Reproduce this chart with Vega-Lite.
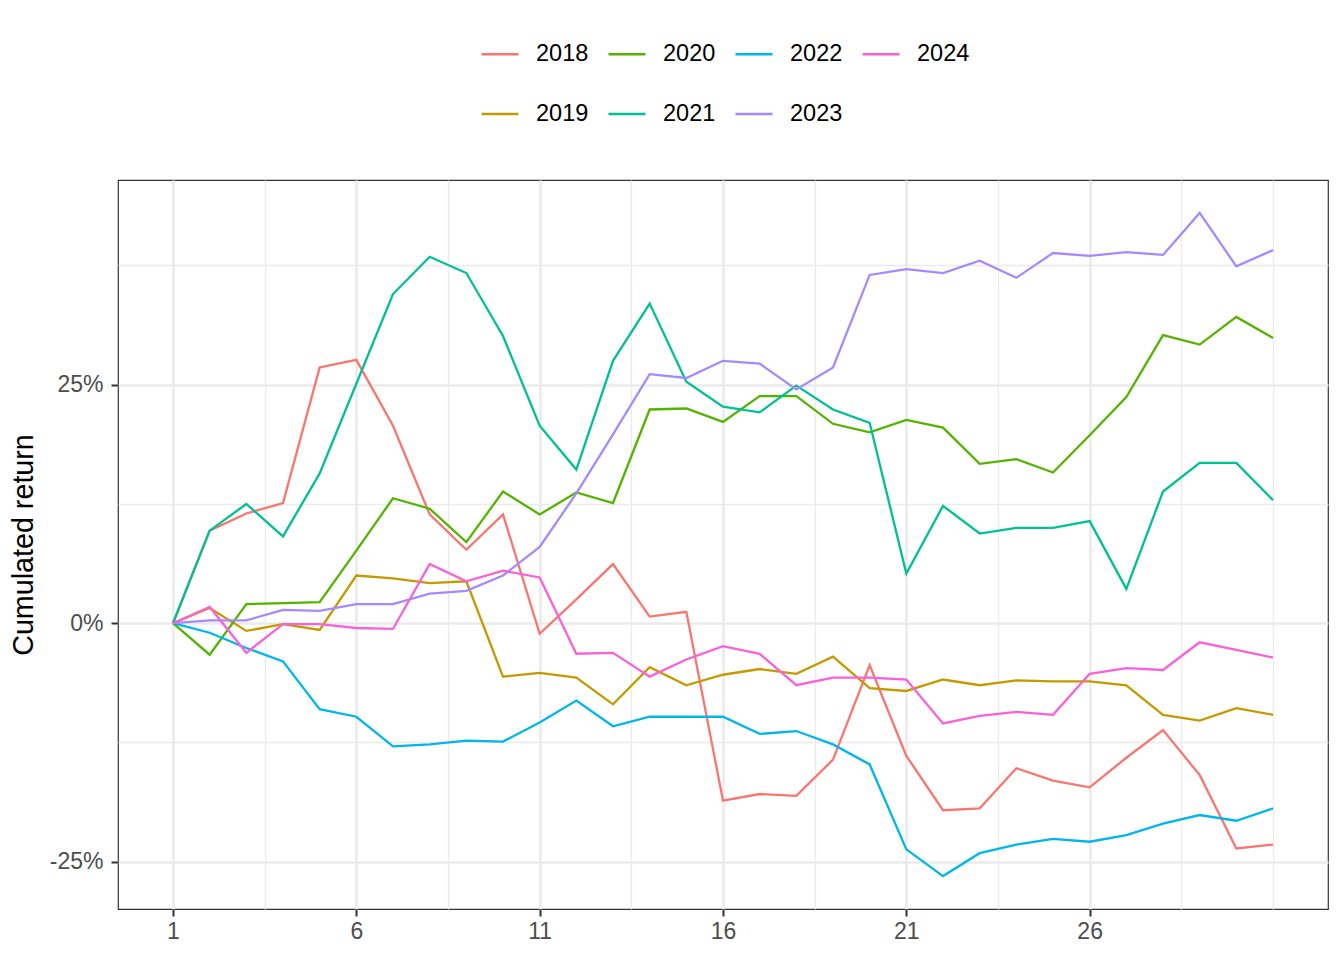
{
  "$schema": "https://vega.github.io/schema/vega-lite/v6.json",
  "autosize": "none",
  "width": 1210,
  "height": 729,
  "padding": {"left": 118, "top": 180, "right": 16, "bottom": 51},
  "background": "white",
  "config": {
    "font": "Liberation Sans",
    "view": {"stroke": "#333333", "strokeWidth": 1.2}
  },
  "datasets": {
    "returns": [
      {"day":1,"year":"2018","ret":0},{"day":2,"year":"2018","ret":0.097},{"day":3,"year":"2018","ret":0.115},{"day":4,"year":"2018","ret":0.126},{"day":5,"year":"2018","ret":0.268},{"day":6,"year":"2018","ret":0.276},{"day":7,"year":"2018","ret":0.207},{"day":8,"year":"2018","ret":0.114},{"day":9,"year":"2018","ret":0.077},{"day":10,"year":"2018","ret":0.114},{"day":11,"year":"2018","ret":-0.011},{"day":12,"year":"2018","ret":0.025},{"day":13,"year":"2018","ret":0.062},{"day":14,"year":"2018","ret":0.007},{"day":15,"year":"2018","ret":0.012},{"day":16,"year":"2018","ret":-0.186},{"day":17,"year":"2018","ret":-0.179},{"day":18,"year":"2018","ret":-0.181},{"day":19,"year":"2018","ret":-0.143},{"day":20,"year":"2018","ret":-0.044},{"day":21,"year":"2018","ret":-0.139},{"day":22,"year":"2018","ret":-0.196},{"day":23,"year":"2018","ret":-0.194},{"day":24,"year":"2018","ret":-0.152},{"day":25,"year":"2018","ret":-0.165},{"day":26,"year":"2018","ret":-0.172},{"day":27,"year":"2018","ret":-0.141},{"day":28,"year":"2018","ret":-0.112},{"day":29,"year":"2018","ret":-0.159},{"day":30,"year":"2018","ret":-0.236},{"day":31,"year":"2018","ret":-0.232},
      {"day":1,"year":"2019","ret":0},{"day":2,"year":"2019","ret":0.016},{"day":3,"year":"2019","ret":-0.008},{"day":4,"year":"2019","ret":-0.001},{"day":5,"year":"2019","ret":-0.007},{"day":6,"year":"2019","ret":0.05},{"day":7,"year":"2019","ret":0.047},{"day":8,"year":"2019","ret":0.042},{"day":9,"year":"2019","ret":0.044},{"day":10,"year":"2019","ret":-0.056},{"day":11,"year":"2019","ret":-0.052},{"day":12,"year":"2019","ret":-0.057},{"day":13,"year":"2019","ret":-0.085},{"day":14,"year":"2019","ret":-0.046},{"day":15,"year":"2019","ret":-0.065},{"day":16,"year":"2019","ret":-0.054},{"day":17,"year":"2019","ret":-0.048},{"day":18,"year":"2019","ret":-0.053},{"day":19,"year":"2019","ret":-0.035},{"day":20,"year":"2019","ret":-0.068},{"day":21,"year":"2019","ret":-0.071},{"day":22,"year":"2019","ret":-0.059},{"day":23,"year":"2019","ret":-0.065},{"day":24,"year":"2019","ret":-0.06},{"day":25,"year":"2019","ret":-0.061},{"day":26,"year":"2019","ret":-0.061},{"day":27,"year":"2019","ret":-0.065},{"day":28,"year":"2019","ret":-0.096},{"day":29,"year":"2019","ret":-0.102},{"day":30,"year":"2019","ret":-0.089},{"day":31,"year":"2019","ret":-0.096},
      {"day":1,"year":"2020","ret":0},{"day":2,"year":"2020","ret":-0.033},{"day":3,"year":"2020","ret":0.02},{"day":4,"year":"2020","ret":0.021},{"day":5,"year":"2020","ret":0.022},{"day":6,"year":"2020","ret":0.076},{"day":7,"year":"2020","ret":0.131},{"day":8,"year":"2020","ret":0.12},{"day":9,"year":"2020","ret":0.085},{"day":10,"year":"2020","ret":0.138},{"day":11,"year":"2020","ret":0.114},{"day":12,"year":"2020","ret":0.137},{"day":13,"year":"2020","ret":0.126},{"day":14,"year":"2020","ret":0.224},{"day":15,"year":"2020","ret":0.225},{"day":16,"year":"2020","ret":0.211},{"day":17,"year":"2020","ret":0.238},{"day":18,"year":"2020","ret":0.238},{"day":19,"year":"2020","ret":0.209},{"day":20,"year":"2020","ret":0.2},{"day":21,"year":"2020","ret":0.213},{"day":22,"year":"2020","ret":0.205},{"day":23,"year":"2020","ret":0.167},{"day":24,"year":"2020","ret":0.172},{"day":25,"year":"2020","ret":0.158},{"day":26,"year":"2020","ret":0.197},{"day":27,"year":"2020","ret":0.237},{"day":28,"year":"2020","ret":0.302},{"day":29,"year":"2020","ret":0.292},{"day":30,"year":"2020","ret":0.321},{"day":31,"year":"2020","ret":0.299},
      {"day":1,"year":"2021","ret":0},{"day":2,"year":"2021","ret":0.097},{"day":3,"year":"2021","ret":0.125},{"day":4,"year":"2021","ret":0.091},{"day":5,"year":"2021","ret":0.157},{"day":6,"year":"2021","ret":0.251},{"day":7,"year":"2021","ret":0.345},{"day":8,"year":"2021","ret":0.384},{"day":9,"year":"2021","ret":0.367},{"day":10,"year":"2021","ret":0.301},{"day":11,"year":"2021","ret":0.207},{"day":12,"year":"2021","ret":0.161},{"day":13,"year":"2021","ret":0.275},{"day":14,"year":"2021","ret":0.335},{"day":15,"year":"2021","ret":0.253},{"day":16,"year":"2021","ret":0.227},{"day":17,"year":"2021","ret":0.221},{"day":18,"year":"2021","ret":0.249},{"day":19,"year":"2021","ret":0.224},{"day":20,"year":"2021","ret":0.21},{"day":21,"year":"2021","ret":0.052},{"day":22,"year":"2021","ret":0.123},{"day":23,"year":"2021","ret":0.094},{"day":24,"year":"2021","ret":0.1},{"day":25,"year":"2021","ret":0.1},{"day":26,"year":"2021","ret":0.107},{"day":27,"year":"2021","ret":0.036},{"day":28,"year":"2021","ret":0.138},{"day":29,"year":"2021","ret":0.168},{"day":30,"year":"2021","ret":0.168},{"day":31,"year":"2021","ret":0.129},
      {"day":1,"year":"2022","ret":0},{"day":2,"year":"2022","ret":-0.01},{"day":3,"year":"2022","ret":-0.026},{"day":4,"year":"2022","ret":-0.04},{"day":5,"year":"2022","ret":-0.09},{"day":6,"year":"2022","ret":-0.098},{"day":7,"year":"2022","ret":-0.129},{"day":8,"year":"2022","ret":-0.127},{"day":9,"year":"2022","ret":-0.123},{"day":10,"year":"2022","ret":-0.124},{"day":11,"year":"2022","ret":-0.104},{"day":12,"year":"2022","ret":-0.081},{"day":13,"year":"2022","ret":-0.108},{"day":14,"year":"2022","ret":-0.098},{"day":15,"year":"2022","ret":-0.098},{"day":16,"year":"2022","ret":-0.098},{"day":17,"year":"2022","ret":-0.116},{"day":18,"year":"2022","ret":-0.113},{"day":19,"year":"2022","ret":-0.127},{"day":20,"year":"2022","ret":-0.148},{"day":21,"year":"2022","ret":-0.237},{"day":22,"year":"2022","ret":-0.265},{"day":23,"year":"2022","ret":-0.241},{"day":24,"year":"2022","ret":-0.232},{"day":25,"year":"2022","ret":-0.226},{"day":26,"year":"2022","ret":-0.229},{"day":27,"year":"2022","ret":-0.222},{"day":28,"year":"2022","ret":-0.21},{"day":29,"year":"2022","ret":-0.201},{"day":30,"year":"2022","ret":-0.207},{"day":31,"year":"2022","ret":-0.194},
      {"day":1,"year":"2023","ret":0},{"day":2,"year":"2023","ret":0.003},{"day":3,"year":"2023","ret":0.003},{"day":4,"year":"2023","ret":0.014},{"day":5,"year":"2023","ret":0.013},{"day":6,"year":"2023","ret":0.02},{"day":7,"year":"2023","ret":0.02},{"day":8,"year":"2023","ret":0.031},{"day":9,"year":"2023","ret":0.034},{"day":10,"year":"2023","ret":0.05},{"day":11,"year":"2023","ret":0.08},{"day":12,"year":"2023","ret":0.136},{"day":13,"year":"2023","ret":0.198},{"day":14,"year":"2023","ret":0.261},{"day":15,"year":"2023","ret":0.257},{"day":16,"year":"2023","ret":0.275},{"day":17,"year":"2023","ret":0.272},{"day":18,"year":"2023","ret":0.245},{"day":19,"year":"2023","ret":0.268},{"day":20,"year":"2023","ret":0.365},{"day":21,"year":"2023","ret":0.371},{"day":22,"year":"2023","ret":0.367},{"day":23,"year":"2023","ret":0.38},{"day":24,"year":"2023","ret":0.362},{"day":25,"year":"2023","ret":0.388},{"day":26,"year":"2023","ret":0.385},{"day":27,"year":"2023","ret":0.389},{"day":28,"year":"2023","ret":0.386},{"day":29,"year":"2023","ret":0.43},{"day":30,"year":"2023","ret":0.374},{"day":31,"year":"2023","ret":0.391},
      {"day":1,"year":"2024","ret":0},{"day":2,"year":"2024","ret":0.017},{"day":3,"year":"2024","ret":-0.031},{"day":4,"year":"2024","ret":-0.001},{"day":5,"year":"2024","ret":-0.001},{"day":6,"year":"2024","ret":-0.005},{"day":7,"year":"2024","ret":-0.006},{"day":8,"year":"2024","ret":0.062},{"day":9,"year":"2024","ret":0.044},{"day":10,"year":"2024","ret":0.055},{"day":11,"year":"2024","ret":0.048},{"day":12,"year":"2024","ret":-0.032},{"day":13,"year":"2024","ret":-0.031},{"day":14,"year":"2024","ret":-0.056},{"day":15,"year":"2024","ret":-0.038},{"day":16,"year":"2024","ret":-0.024},{"day":17,"year":"2024","ret":-0.032},{"day":18,"year":"2024","ret":-0.065},{"day":19,"year":"2024","ret":-0.057},{"day":20,"year":"2024","ret":-0.057},{"day":21,"year":"2024","ret":-0.059},{"day":22,"year":"2024","ret":-0.105},{"day":23,"year":"2024","ret":-0.097},{"day":24,"year":"2024","ret":-0.093},{"day":25,"year":"2024","ret":-0.096},{"day":26,"year":"2024","ret":-0.053},{"day":27,"year":"2024","ret":-0.047},{"day":28,"year":"2024","ret":-0.049},{"day":29,"year":"2024","ret":-0.02},{"day":30,"year":"2024","ret":-0.028},{"day":31,"year":"2024","ret":-0.036}
    ]
  },
  "data": {"name": "returns"},
  "mark": {"type": "line", "strokeWidth": 2.3, "interpolate": "linear"},
  "encoding": {
    "x": {
      "field": "day",
      "type": "quantitative",
      "scale": {"domain": [-0.5, 32.5], "nice": false, "zero": false},
      "axis": {
        "title": null,
        "values": [1, 3.5, 6, 8.5, 11, 13.5, 16, 18.5, 21, 23.5, 26, 28.5, 31],
        "labelExpr": "datum.value <= 26 && (datum.value - 1) % 5 == 0 ? datum.value : ''",
        "labelOverlap": false,
        "labelFlush": false,
        "labelFont": "Liberation Sans",
        "labelFontSize": 23,
        "labelColor": "#4D4D4D",
        "labelPadding": 4,
        "domain": false,
        "tickColor": "#333333",
        "tickSize": 7,
        "tickWidth": 2,
        "tickOpacity": {"condition": {"test": "datum.value <= 26 && (datum.value - 1) % 5 == 0", "value": 1}, "value": 0},
        "gridColor": "#EBEBEB",
        "gridWidth": {"condition": {"test": "datum.value <= 26 && (datum.value - 1) % 5 == 0", "value": 2.6}, "value": 1.3}
      }
    },
    "y": {
      "field": "ret",
      "type": "quantitative",
      "scale": {"domain": [-0.2995, 0.4645], "nice": false, "zero": false},
      "axis": {
        "title": "Cumulated return",
        "titleFont": "Liberation Sans",
        "titleFontSize": 28.7,
        "titleFontWeight": "normal",
        "titleColor": "black",
        "titlePadding": 11,
        "values": [-0.25, -0.125, 0, 0.125, 0.25, 0.375],
        "labelExpr": "datum.value == 0 ? '0%' : datum.value == 0.25 ? '25%' : datum.value == -0.25 ? '-25%' : ''",
        "labelOverlap": false,
        "labelFlush": false,
        "labelFont": "Liberation Sans",
        "labelFontSize": 23,
        "labelColor": "#4D4D4D",
        "labelPadding": 8,
        "domain": false,
        "tickColor": "#333333",
        "tickSize": 7,
        "tickWidth": 2,
        "tickOpacity": {"condition": {"test": "datum.value == 0 || abs(datum.value) == 0.25", "value": 1}, "value": 0},
        "gridColor": "#EBEBEB",
        "gridWidth": {"condition": {"test": "datum.value == 0 || abs(datum.value) == 0.25", "value": 2.6}, "value": 1.3}
      }
    },
    "color": {
      "field": "year",
      "type": "nominal",
      "scale": {
        "domain": ["2018", "2020", "2022", "2024", "2019", "2021", "2023"],
        "range": ["#F8766D", "#53B400", "#00B6EB", "#FB61D7", "#C49A00", "#00C094", "#A58AFF"]
      },
      "legend": {
        "title": null,
        "orient": "none",
        "legendX": 362,
        "legendY": -146,
        "direction": "horizontal",
        "columns": 4,
        "gridAlign": "all",
        "padding": 0,
        "symbolType": "stroke",
        "symbolSize": 1369,
        "symbolStrokeWidth": 2.5,
        "labelFont": "Liberation Sans",
        "labelFontSize": 23.5,
        "labelColor": "black",
        "labelOffset": 16,
        "columnPadding": 14,
        "rowPadding": 28
      }
    }
  }
}
